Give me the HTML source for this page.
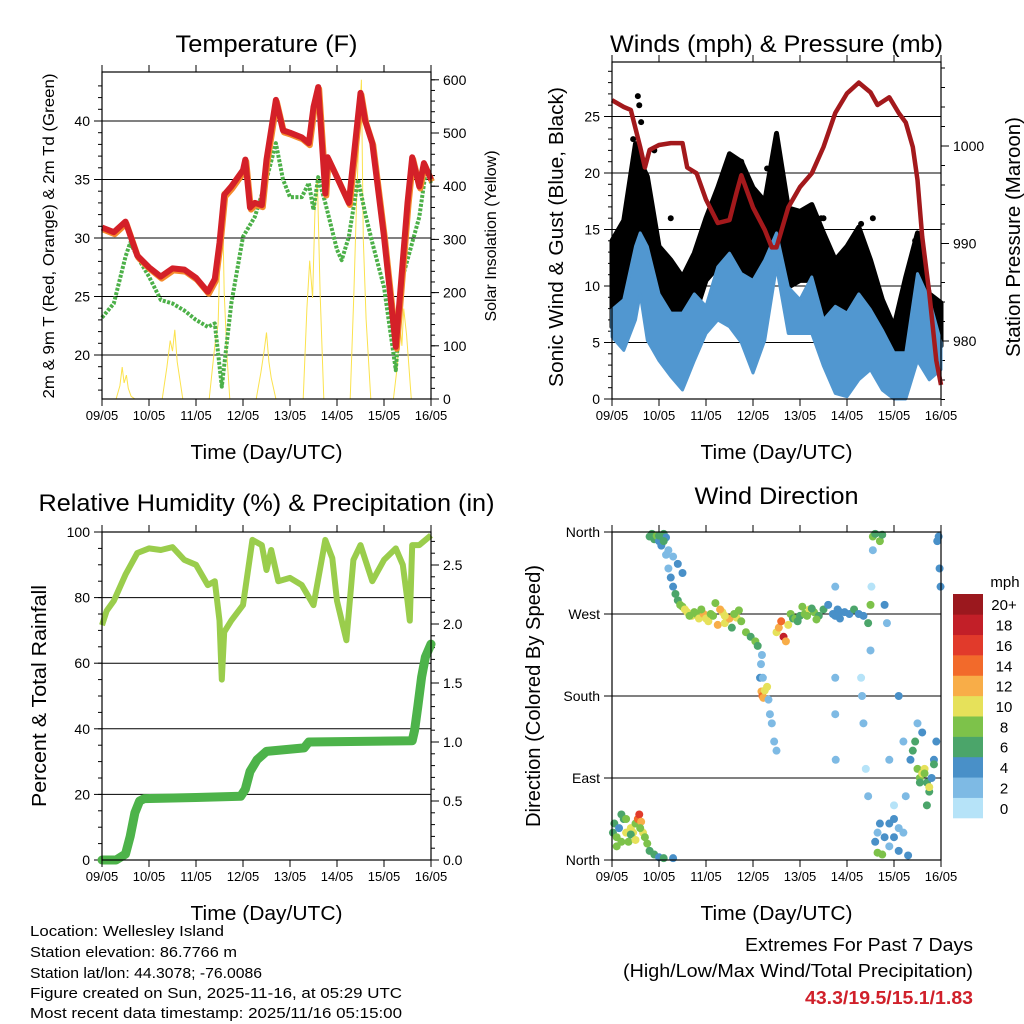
<!DOCTYPE html>
<html><head><meta charset="utf-8"><style>
html,body{margin:0;padding:0;background:#fff}
svg{display:block;font-family:"Liberation Sans",sans-serif}
</style></head><body>
<svg id="c" width="1024" height="1024" viewBox="0 0 1024 1024"></svg>
<script>
// ---------- DATA ----------
const dayLabels=["09/05","10/05","11/05","12/05","13/05","14/05","15/05","16/05"];
const tempT=[0,0.25,0.5,0.75,1,1.25,1.5,1.75,2,2.25,2.4,2.5,2.6,2.75,3,3.05,3.15,3.25,3.4,3.5,3.7,3.85,4,4.25,4.4,4.5,4.6,4.75,4.8,5,5.25,5.5,5.6,5.75,6,6.25,6.5,6.6,6.75,6.85,7];
const tempF=[30.9,30.5,31.4,28.5,27.5,26.7,27.4,27.3,26.6,25.4,26.5,29.6,33.7,34.4,35.8,36.7,32.6,33,32.8,36.7,41.8,39.2,39,38.6,38.1,41.2,42.9,33.8,36.9,35.2,33,42.4,40,38.1,30.1,20.7,33,36.9,34.4,36.4,35];
const dewT=[0,0.25,0.5,0.6,0.75,1,1.25,1.5,1.75,2,2.25,2.4,2.55,2.75,3,3.25,3.5,3.7,3.85,4,4.25,4.4,4.5,4.6,4.75,5,5.1,5.25,5.45,5.6,5.75,6,6.25,6.4,6.6,6.75,6.9,7];
const dewF=[23.2,24.4,28.4,29.6,28.4,26.7,24.7,24.4,23.8,23,22.4,22.7,17.3,24.4,30.1,31.8,35,38.1,35,33.5,33.5,34.7,32.4,35.2,33,29,28.1,30.1,35,32.1,29.6,25.8,18.7,26.7,29.6,31.8,36,34.7];
const solT=[0,0.3,0.38,0.43,0.47,0.52,0.56,0.62,0.7,1.28,1.38,1.45,1.5,1.55,1.6,1.65,1.72,2.28,2.4,2.47,2.52,2.56,2.6,2.66,2.72,3.28,3.38,3.45,3.5,3.55,3.6,3.7,4.28,4.36,4.42,4.48,4.53,4.58,4.64,4.72,5.28,5.36,5.42,5.47,5.52,5.56,5.62,5.72,6.2,6.28,6.34,6.38,6.42,6.48,6.58,7];
const solW=[0,0,25,60,30,45,20,5,0,0,60,110,90,130,70,40,0,0,100,140,300,390,200,80,0,0,50,90,125,70,40,0,0,170,260,190,350,420,200,0,0,200,380,500,600,300,150,0,0,60,140,100,170,120,0,0];
const presT=[0,0.25,0.4,0.6,0.7,0.8,1,1.25,1.5,1.6,1.8,2,2.25,2.5,2.65,2.75,3,3.25,3.4,3.5,3.75,4,4.25,4.5,4.75,5,5.25,5.5,5.65,5.9,6.1,6.25,6.4,6.5,6.6,6.75,6.9,7];
const presMb=[1004.7,1004,1003.7,999.9,997.8,999.6,1000.1,1000.3,1000.3,997.8,997.2,994.5,992.1,992.4,995.2,997,993.7,991.4,989.6,989.6,993.7,995.8,997.2,999.9,1003.4,1005.4,1006.5,1005.5,1004.2,1005,1003.4,1002.4,999.9,996.5,990.7,984.9,978,975.5];
const windT=[0,0.25,0.5,0.6,0.75,1,1.25,1.5,1.75,2,2.25,2.5,2.75,3,3.25,3.5,3.75,4,4.25,4.5,4.75,5,5.25,5.5,5.75,6,6.25,6.5,6.75,7];
const windHi=[7.9,8.8,13.5,14.7,13.5,9.3,7.6,7.6,9.3,8.2,11.7,12.9,11.1,10.5,12.3,14.7,9.9,8.8,10.8,7,8.2,7.6,9.3,7.9,6.1,4.1,4.1,11.1,8.8,5];
const windLo=[5.5,4.3,7,9.3,5.2,3.4,2,0.8,3.4,5.8,7,6.4,5,2.3,5.2,11.7,5.8,5.8,5.8,2.9,0.5,0.2,1.7,2.6,0.8,0,0,3.4,1.7,2.6];
const gustHi=[14,15.8,22.6,21,19.7,13.5,12.3,10.8,12.9,16,18.7,21.7,21,18.7,17.5,23.5,16.9,16.6,17.2,14.7,12.3,13.5,15.2,12.3,8.8,6.4,10.8,14.7,9.3,8.5];
const gustLo=[6.4,9.3,13.5,13.5,13.5,7.6,4.7,4.7,7.3,10.5,11.7,13.5,10.5,7.6,11.4,15.8,9.9,10.5,10.5,7.6,4.7,5.5,7.6,5.5,3.8,3,3.8,9.3,5.8,4.7];
const gustOutT=[0.55,0.58,0.62,0.45,0.9,1.25,2.25,2.6,2.75,3.3,3.35,3.55,4.45,4.5,5.3,5.55,6.45,6.5];
const gustOutV=[26.8,26,24.5,23,22,16,17.7,19.5,21,20.4,19.3,19.8,16,16,15.5,16,14,13];
const rhT=[0,0.1,0.25,0.5,0.75,1,1.25,1.5,1.75,2,2.25,2.4,2.5,2.55,2.6,2.75,3,3.2,3.4,3.5,3.6,3.75,4,4.25,4.5,4.75,4.9,5,5.2,5.35,5.5,5.75,6,6.25,6.4,6.5,6.55,6.6,6.75,7];
const rhPct=[71.6,76,79,87,93.6,95,94.5,95.4,91.5,90,83.8,85,73,55,69.5,73,77.7,97.6,96,88.4,94.5,85,86,83.8,77.7,97.6,92,79,67,91.5,96,85,91.5,95,90,79,73,96,96,99];
const rainT=[0,0.3,0.5,0.6,0.7,0.8,0.9,2,2.95,3.05,3.15,3.3,3.5,4.3,4.4,6.6,6.65,6.72,6.8,6.88,7];
const rainIn=[0,0,0.05,0.2,0.4,0.5,0.52,0.53,0.54,0.6,0.75,0.85,0.92,0.95,1.0,1.01,1.1,1.3,1.55,1.72,1.83];
// wind direction: time (days), direction (deg), speed (mph)
const dirT=[0.02,0.05,0.1,0.15,0.2,0.25,0.3,0.35,0.4,0.45,0.5,0.55,0.58,0.62,0.66,0.7,0.75,0.8,0.9,1.0,1.1,1.3,
 0.8,0.85,0.9,0.95,1.0,1.05,1.1,1.15,1.2,1.3,1.4,1.5,
 1.15,1.2,1.25,1.3,1.35,1.4,1.45,1.5,1.55,1.6,1.7,1.8,
 1.65,1.75,1.85,1.95,2.05,2.15,2.25,2.35,2.45,2.55,2.65,2.75,2.85,2.95,3.05,3.1,2.3,2.4,2.5,2.2,
 3.15,3.18,3.2,3.22,3.25,3.3,3.33,3.36,3.4,3.45,3.5,3.17,3.19,3.21,
 3.5,3.55,3.6,3.65,3.7,3.75,3.8,3.85,
 3.9,4.0,4.1,4.2,4.3,4.4,4.5,4.6,4.7,4.8,4.85,
 4.75,4.85,4.95,5.05,5.15,5.25,5.35,5.45,5.5,
 4.75,4.75,4.75,4.76,5.3,5.32,5.35,5.4,5.45,5.5,5.52,5.55,5.8,5.85,5.9,6.0,6.1,6.2,6.25,
 5.6,5.65,5.7,5.8,5.9,6.0,6.1,6.2,6.3,5.65,5.75,
 6.35,6.4,6.45,6.5,6.55,6.6,6.65,6.7,6.75,6.8,6.85,6.9,6.6,6.7,6.5,
 6.92,6.95,6.97,6.99,5.55,5.6,5.7,5.75,
 0.1,0.2,0.3,0.4,0.5,0.6,1.0,1.1,1.9,2.0,2.1,2.4,2.6,2.7,3.95,4.05,4.15,4.25,4.35,6.55,6.65,6.75,6.85,5.9,6.0,6.1];
const dirDeg=[30,40,25,35,20,45,30,20,35,30,40,45,50,42,30,25,18,10,6,3,2,2,
 355,358,352,356,350,345,358,354,340,333,325,315,
 335,320,310,300,292,285,280,278,275,272,268,270,
 268,272,265,270,262,268,258,272,264,255,266,262,250,245,240,235,275,260,265,282,
 200,185,180,178,186,190,176,160,150,130,120,215,225,200,
 250,255,262,245,240,258,270,265,
 265,268,270,275,272,268,275,280,270,275,272,
 268,265,272,270,275,270,268,260,280,
 300,200,160,110,200,180,150,100,70,230,300,340,280,260,110,60,180,130,70,
 20,30,40,25,15,45,10,30,5,8,6,
 110,120,130,100,90,95,100,85,75,90,110,130,140,60,150,
 350,355,320,300,355,358,350,357,
 15,50,45,28,22,35,356,350,275,265,270,268,270,274,262,278,268,276,264,85,95,80,105,40,25,35];
const dirSpd=[6,5,7,4,8,6,9,8,10,9,8,14,16,12,10,7,7,6,5,4,5,3,
 6,6,5,7,4,4,5,3,2,2,3,4,
 2,2,3,4,5,6,7,8,9,10,9,7,
 7,8,10,11,9,8,12,10,7,6,9,8,7,6,7,6,11,10,12,8,
 3,11,13,12,10,9,2,2,2,2,2,2,2,2,
 9,12,14,17,12,9,7,6,
 7,6,8,9,7,6,5,4,4,3,4,
 4,4,3,4,5,4,3,6,7,
 1,1,2,1,0,2,1,0,1,2,0,1,3,2,1,0,4,2,1,
 4,2,3,4,2,3,4,1,3,7,8,
 4,5,6,7,8,9,10,6,5,4,3,4,4,6,2,
 4,3,4,3,7,6,7,5,
 7,6,8,5,9,7,6,5,8,9,7,10,8,7,6,7,8,6,7,6,8,10,6,3,4,2];
const cbColors=["#b6e3f8","#7ebae4","#4990c8","#4ba56a","#7dc24a","#e6e15a","#f8ad48","#f26a2b","#e13a2b","#c21f28","#9b181e"];
const cbLabels=["0","2","4","6","8","10","12","14","16","18","20+"];

// ---------- RENDER ----------
const svg=document.getElementById('c');
const NS="http://www.w3.org/2000/svg";
function mk(tag,attrs,parent){const e=document.createElementNS(NS,tag);for(const k in attrs)e.setAttribute(k,attrs[k]);(parent||svg).appendChild(e);return e;}
function txt(s,x,y,size,anchor,parent,extra){const e=mk('text',Object.assign({x:x,y:y,'font-size':size,'text-anchor':anchor||'middle',fill:'#000'},extra||{}),parent);e.textContent=s;return e;}
function pathOf(xs,ys,fx,fy){return xs.map((t,i)=>(i?'L':'M')+fx(t).toFixed(1)+' '+fy(ys[i]).toFixed(1)).join(' ');}

function panel(name,x0,x1,y0,y1){
  const g=mk('g',{});
  
  
  const fx=d=>x0+(x1-x0)*d/7;
  return {g,fx,x0,x1,y0,y1};
}
function frame(p){mk('rect',{x:p.x0,y:p.y0,width:p.x1-p.x0,height:p.y1-p.y0,fill:'none',stroke:'#000','stroke-width':1.2},p.g);}
function xAxis(p,label){
  const ax=mk('g',{},p.g);
  
  
  dayLabels.forEach((l,i)=>{const x=p.fx(i);
    mk('line',{x1:x,x2:x,y1:p.y1,y2:p.y1+7,stroke:'#000'},ax);
    mk('line',{x1:x,x2:x,y1:p.y0,y2:p.y0-7,stroke:'#000'},ax);
    txt(l,x,p.y1+21,13,'middle',ax);});
  const t=txt(label,(p.x0+p.x1)/2,p.y1+60,20,'middle',ax,{textLength:152,lengthAdjust:'spacingAndGlyphs'});
  
  
}
function yAxis(p,side,fy,majors,labels,minorStep,minorFrom,minorTo,grid,name){
  const ax=mk('g',{},p.g);
  
  
  const x=side==='l'?p.x0:p.x1, s=side==='l'?-1:1;
  if(minorStep){for(let v=minorFrom;v<=minorTo+1e-9;v+=minorStep){const y=fy(v);if(y<p.y0-0.5||y>p.y1+0.5)continue;
    mk('line',{x1:x,x2:x+s*4,y1:y,y2:y,stroke:'#000'},ax);}}
  majors.forEach((v,i)=>{const y=fy(v);
    mk('line',{x1:x,x2:x+s*8,y1:y,y2:y,stroke:'#000'},ax);
    if(grid&&grid.indexOf(v)>=0)mk('line',{x1:p.x0,x2:p.x1,y1:y,y2:y,stroke:'#000','stroke-width':1},p.g);
    txt(labels[i],x+s*12,y+5,14,side==='l'?'end':'start',ax);});
}
function title(p,s,w){const t=txt(s,(p.x0+p.x1)/2,0,24,'middle',p.g,{textLength:w,lengthAdjust:'spacingAndGlyphs'});return t;}

// ---- Panel 1: Temperature ----
{
const p=panel('temperature-panel',102,431,72,399);
const fyT=T=>355-(T-20)*11.7, fyS=s=>399-s*0.532;
const t=title(p,'Temperature (F)',182);t.setAttribute('y',52);

yAxis(p,'l',fyT,[20,25,30,35,40],['20','25','30','35','40'],1,17,43,[20,25,30,35,40],'y-axis-temperature');
yAxis(p,'r',fyS,[0,100,200,300,400,500,600],['0','100','200','300','400','500','600'],20,0,600,null,'y-axis-solar');
const sol=mk('path',{d:pathOf(solT,solW,p.fx,fyS),fill:'none',stroke:'#fbe24d','stroke-width':1},p.g);


const dew=mk('path',{d:pathOf(dewT,dewF,p.fx,fyT),fill:'none',stroke:'#4cb048','stroke-width':4,'stroke-dasharray':'3 1.5','stroke-linejoin':'round'},p.g);


const or=mk('path',{d:pathOf(tempT,tempF,p.fx,fyT),fill:'none',stroke:'#f58a2c','stroke-width':6,'stroke-linejoin':'round',transform:'translate(1,2)'},p.g);


const red=mk('path',{d:pathOf(tempT,tempF,p.fx,fyT),fill:'none',stroke:'#d42028','stroke-width':6,'stroke-linejoin':'round'},p.g);


frame(p);xAxis(p,'Time (Day/UTC)');
const yl=txt('2m & 9m T (Red, Orange) & 2m Td (Green)',0,0,16,'middle',p.g,{transform:'translate(54,236) rotate(-90)',textLength:325,lengthAdjust:'spacingAndGlyphs'});

const yr=txt('Solar Insolation (Yellow)',0,0,16,'middle',p.g,{transform:'translate(496,236) rotate(-90)'});

}
// ---- Panel 2: Winds ----
{
const p=panel('winds-panel',612,941,62,399);
const fyW=m=>399-m*11.3, fyP=v=>341-(v-980)*9.75;
const t=title(p,'Winds (mph) & Pressure (mb)',333);t.setAttribute('y',52);

yAxis(p,'l',fyW,[0,5,10,15,20,25],['0','5','10','15','20','25'],1,0,29,[5,10,15,20,25],'y-axis-wind');
yAxis(p,'r',fyP,[980,990,1000],['980','990','1000'],2,974,1008,null,'y-axis-pressure');
const gb=mk('path',{d:pathOf(windT,gustHi,p.fx,fyW)+' '+pathOf(windT.slice().reverse(),gustLo.slice().reverse(),p.fx,fyW).replace('M','L')+'Z',fill:'#000',stroke:'#000','stroke-width':5,'stroke-linejoin':'round'},p.g);


gustOutT.forEach((d,i)=>{const c=mk('circle',{cx:p.fx(d),cy:fyW(gustOutV[i]),r:3,fill:'#000'},p.g);

});
const wb=mk('path',{d:pathOf(windT,windHi,p.fx,fyW)+' '+pathOf(windT.slice().reverse(),windLo.slice().reverse(),p.fx,fyW).replace('M','L')+'Z',fill:'#5197d0',stroke:'#5197d0','stroke-width':3,'stroke-linejoin':'round'},p.g);


const pr=mk('path',{d:pathOf(presT,presMb,p.fx,fyP),fill:'none',stroke:'#a3191c','stroke-width':4.5,'stroke-linejoin':'round'},p.g);


frame(p);xAxis(p,'Time (Day/UTC)');
const yl=txt('Sonic Wind & Gust (Blue, Black)',0,0,20,'middle',p.g,{transform:'translate(563,237) rotate(-90)',textLength:300,lengthAdjust:'spacingAndGlyphs'});

const yr=txt('Station Pressure (Maroon)',0,0,20,'middle',p.g,{transform:'translate(1020,237) rotate(-90)',textLength:240,lengthAdjust:'spacingAndGlyphs'});

}
// ---- Panel 3: RH ----
{
const p=panel('humidity-panel',102,431,532,860);
const fyR=r=>860-r*3.28, fyI=v=>860-v*118;
const t=title(p,'Relative Humidity (%) & Precipitation (in)',456);t.setAttribute('y',511);

yAxis(p,'l',fyR,[0,20,40,60,80,100],['0','20','40','60','80','100'],5,0,100,[20,40,60,80],'y-axis-humidity');
yAxis(p,'r',fyI,[0,0.5,1,1.5,2,2.5],['0.0','0.5','1.0','1.5','2.0','2.5'],0.1,0,2.75,null,'y-axis-precip');
const rh=mk('path',{d:pathOf(rhT,rhPct,p.fx,fyR),fill:'none',stroke:'#9acd4c','stroke-width':6,'stroke-linejoin':'round'},p.g);


const rn=mk('path',{d:pathOf(rainT,rainIn,p.fx,fyI),fill:'none',stroke:'#4db34a','stroke-width':9,'stroke-linejoin':'round','stroke-linecap':'round'},p.g);


frame(p);xAxis(p,'Time (Day/UTC)');
const yl=txt('Percent & Total Rainfall',0,0,20,'middle',p.g,{transform:'translate(46,696) rotate(-90)',textLength:222,lengthAdjust:'spacingAndGlyphs'});

}
// ---- Panel 4: Wind direction ----
{
const p=panel('wind-direction-panel',612,941,532,860);
const fyD=d=>860-d*328/360;
const t=title(p,'Wind Direction',164);t.setAttribute('y',504);

yAxis(p,'l',fyD,[0,90,180,270,360],['North','East','South','West','North'],null,0,0,[90,180,270],'y-axis-direction');
dirT.forEach((d,i)=>{const bin=Math.min(10,Math.floor((dirSpd[i]+1)/2));
  const c=mk('circle',{cx:p.fx(d),cy:fyD(dirDeg[i]),r:4,fill:cbColors[bin]},p.g);
  
  });
frame(p);xAxis(p,'Time (Day/UTC)');
const yl=txt('Direction (Colored By Speed)',0,0,20,'middle',p.g,{transform:'translate(540,696) rotate(-90)',textLength:262,lengthAdjust:'spacingAndGlyphs'});

const cb=mk('g',{});


const h=224/11;
cbColors.forEach((c,i)=>{const y=818-(i+1)*h;
  const r=mk('rect',{x:953,y:y,width:30,height:h+0.3,fill:c},cb);
  
  
  txt(cbLabels[i],1004,y+h/2+6,15,'middle',cb);});
txt('mph',1005,587,15,'middle',cb);
}
// ---- Footer ----
const ft=mk('g',{});


[['Location: Wellesley Island',936,194],['Station elevation: 86.7766 m',957,207],['Station lat/lon: 44.3078; -76.0086',978,232],['Figure created on Sun, 2025-11-16, at 05:29 UTC',998,372],['Most recent data timestamp: 2025/11/16 05:15:00',1018,372]].forEach(a=>{
  txt(a[0],30,a[1],15,'start',ft,{textLength:a[2],lengthAdjust:'spacingAndGlyphs'});});
const ex=mk('g',{});


txt('Extremes For Past 7 Days',973,951,18,'end',ex,{textLength:228,lengthAdjust:'spacingAndGlyphs'});
txt('(High/Low/Max Wind/Total Precipitation)',973,977,18,'end',ex,{textLength:350,lengthAdjust:'spacingAndGlyphs'});
txt('43.3/19.5/15.1/1.83',973,1004,18,'end',ex,{fill:'#d0202a','font-weight':'bold',textLength:168,lengthAdjust:'spacingAndGlyphs'});
</script>
</body></html>
